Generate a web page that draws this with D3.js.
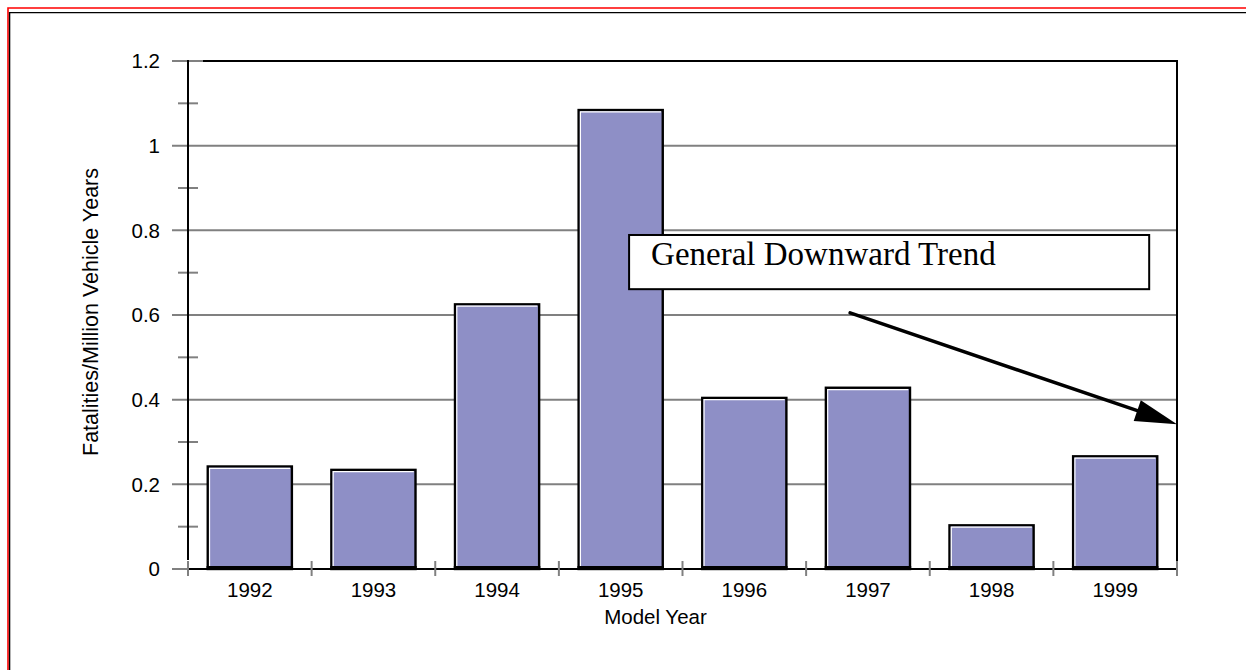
<!DOCTYPE html>
<html>
<head>
<meta charset="utf-8">
<script src="https://cdn.jsdelivr.net/npm/d3@7"></script>
<style>
	body { margin: 0; background: #fff; overflow: hidden; }
	svg { display: block; }
	.tick-label { font-family: "Liberation Sans", Arial, sans-serif; font-size: 20.5px; fill: #000; }
</style>
</head>
<body>
<div id="container"></div>
<script>
// chart values
var years = ["1992", "1993", "1994", "1995", "1996", "1997", "1998", "1999"];
var rates = [0.245, 0.237, 0.628, 1.087, 0.407, 0.431, 0.106, 0.269];
var yTicks = [0, 0.2, 0.4, 0.6, 0.8, 1.0, 1.2];
var yTickLabels = ["0", "0.2", "0.4", "0.6", "0.8", "1", "1.2"];
var yMinorTicks = [0.1, 0.3, 0.5, 0.7, 0.9, 1.1];
var xTitle = "Model Year";
var yTitle = "Fatalities/Million Vehicle Years";
var noteText = "General Downward Trend";
// note box and arrow, in (category position, value) units
var noteBox = [3.568, 0.789, 7.775, 0.661];
var noteArrow = [5.356, 0.605, 8.0, 0.342];

var margin = {top: 61, right: 69, bottom: 101, left: 188},
	width = 1246 - margin.left - margin.right,
	height = 670 - margin.top - margin.bottom;

var grey = "#808080";
var barFill = "#8e8fc6";

var x = d3.scaleBand().domain(years).range([0, width]).paddingInner(0.3).paddingOuter(0.15);
var xPos = d3.scaleLinear().domain([0, years.length]).range([0, width]);
var y = d3.scaleLinear().domain([0, 1.2]).range([height, 0]);

var root = d3.select("#container").append("svg")
	.attr("width", 1246)
	.attr("height", 670);

// page frame (only top and left edges are on the page)
root.append("path")
	.attr("d", "M8,670 L8,8 L1246,8")
	.attr("fill", "none").attr("stroke", "#ff0000").attr("stroke-width", 1.6);
root.append("path")
	.attr("d", "M9.6,670 L9.6,12.6 L1246,12.6")
	.attr("fill", "none").attr("stroke", "#000").attr("stroke-width", 1.4);

var svg = root.append("g").attr("transform", "translate(" + margin.left + "," + margin.top + ")");

// gridlines + major ticks
svg.append("g").selectAll("line.grid")
	.data(yTicks.slice(1, -1))
	.enter().append("line")
	.attr("x1", -16).attr("x2", width)
	.attr("y1", d => y(d)).attr("y2", d => y(d))
	.attr("stroke", grey).attr("stroke-width", 2);

svg.append("line")
	.attr("x1", -16).attr("x2", 15)
	.attr("y1", y(1.2)).attr("y2", y(1.2))
	.attr("stroke", grey).attr("stroke-width", 2);
svg.append("line")
	.attr("x1", -16).attr("x2", 0)
	.attr("y1", y(0)).attr("y2", y(0))
	.attr("stroke", grey).attr("stroke-width", 2);

svg.append("g").selectAll("line")
	.data(yMinorTicks)
	.enter().append("line")
	.attr("x1", -10).attr("x2", 10)
	.attr("y1", d => y(d)).attr("y2", d => y(d))
	.attr("stroke", grey).attr("stroke-width", 2);

// plot frame: left, top, right
svg.append("line")
	.attr("x1", 0).attr("x2", 0).attr("y1", y(1.2) - 1).attr("y2", height - 9)
	.attr("stroke", "#000").attr("stroke-width", 2);
svg.append("line")
	.attr("x1", 15).attr("x2", width + 1).attr("y1", y(1.2)).attr("y2", y(1.2))
	.attr("stroke", "#000").attr("stroke-width", 2);
svg.append("line")
	.attr("x1", width).attr("x2", width).attr("y1", y(1.2)).attr("y2", height - 2)
	.attr("stroke", "#000").attr("stroke-width", 2);

// bars
var bars = svg.append("g").selectAll("g.bar")
	.data(years)
	.enter().append("g").attr("class", "bar");

bars.append("rect")
	.attr("x", d => x(d) + 1.2)
	.attr("y", (d, i) => y(rates[i]) + 1.2)
	.attr("width", x.bandwidth() - 2.4)
	.attr("height", (d, i) => height - y(rates[i]) - 1.2)
	.attr("fill", barFill)
	.attr("stroke", "#000")
	.attr("stroke-width", 2.4);

bars.append("polyline")
	.attr("points", (d, i) => {
		var x0 = x(d) + 3, y0 = y(rates[i]) + 3, x1 = x(d) + x.bandwidth() - 3;
		return x0 + "," + (height - 3) + " " + x0 + "," + y0 + " " + x1 + "," + y0;
	})
	.attr("fill", "none").attr("stroke", "#fff").attr("stroke-width", 1.2);

bars.append("line")
	.attr("x1", d => x(d)).attr("x2", d => x(d) + x.bandwidth())
	.attr("y1", height - 1.5).attr("y2", height - 1.5)
	.attr("stroke", "#000").attr("stroke-width", 3);

// x axis baseline + ticks
svg.append("line")
	.attr("x1", 0).attr("x2", width).attr("y1", height).attr("y2", height)
	.attr("stroke", "#000").attr("stroke-width", 2);

svg.append("g").selectAll("line")
	.data(d3.range(years.length + 1))
	.enter().append("line")
	.attr("x1", d => xPos(d)).attr("x2", d => xPos(d))
	.attr("y1", height - 8).attr("y2", height + 7)
	.attr("stroke", grey).attr("stroke-width", 2);

// tick labels
svg.append("g").selectAll("text")
	.data(years)
	.enter().append("text")
	.attr("class", "tick-label")
	.attr("x", d => x(d) + x.bandwidth() / 2)
	.attr("y", height + 28)
	.attr("text-anchor", "middle")
	.text(d => d);

svg.append("g").selectAll("text")
	.data(yTicks)
	.enter().append("text")
	.attr("class", "tick-label")
	.attr("x", -28)
	.attr("y", d => y(d))
	.attr("dy", "0.35em")
	.attr("text-anchor", "end")
	.text((d, i) => yTickLabels[i]);

// axis titles
svg.append("text")
	.attr("class", "tick-label")
	.attr("x", width / 2 - 27)
	.attr("y", height + 55)
	.attr("text-anchor", "middle")
	.text(xTitle);

svg.append("text")
	.attr("class", "tick-label")
	.style("font-size", "21.5px")
	.attr("transform", "translate(" + (-90) + "," + (height / 2 - 3) + ") rotate(-90)")
	.attr("text-anchor", "middle")
	.text(yTitle);

// note box
var bx0 = xPos(noteBox[0]), by0 = y(noteBox[1]), bx1 = xPos(noteBox[2]), by1 = y(noteBox[3]);
svg.append("rect")
	.attr("x", bx0).attr("y", by0)
	.attr("width", bx1 - bx0).attr("height", by1 - by0)
	.attr("fill", "#fff").attr("stroke", "#000").attr("stroke-width", 2);

svg.append("text")
	.attr("x", bx0 + 22)
	.attr("y", by0 + 30)
	.style("font-family", "'Liberation Serif', 'Times New Roman', serif")
	.style("font-size", "33px")
	.text(noteText);

// arrow
var ax0 = xPos(noteArrow[0]), ay0 = y(noteArrow[1]), ax1 = xPos(noteArrow[2]), ay1 = y(noteArrow[3]);
var len = Math.hypot(ax1 - ax0, ay1 - ay0),
	ux = (ax1 - ax0) / len, uy = (ay1 - ay0) / len;
var headLen = 42, headHalf = 11;

svg.append("line")
	.attr("x1", ax0).attr("y1", ay0)
	.attr("x2", ax1 - ux * (headLen - 4)).attr("y2", ay1 - uy * (headLen - 4))
	.attr("stroke", "#000").attr("stroke-width", 3.5).attr("stroke-linecap", "round");

svg.append("polygon")
	.attr("points", [
		[ax1, ay1],
		[ax1 - ux * headLen - uy * headHalf, ay1 - uy * headLen + ux * headHalf],
		[ax1 - ux * headLen + uy * headHalf, ay1 - uy * headLen - ux * headHalf]
	].map(p => p.join(",")).join(" "))
	.attr("fill", "#000");
</script>
</body>
</html>
